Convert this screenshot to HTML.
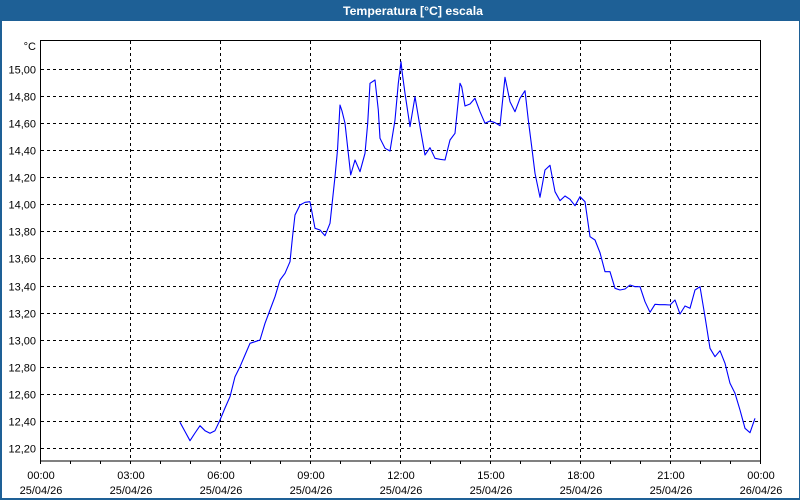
<!DOCTYPE html>
<html><head><meta charset="utf-8"><style>
html,body{margin:0;padding:0;background:#fff;}
svg{display:block;}
text{font-family:"Liberation Sans",Arial,sans-serif;}
</style></head><body>
<svg width="800" height="500" viewBox="0 0 800 500" xmlns="http://www.w3.org/2000/svg">
<rect x="0" y="0" width="800" height="500" fill="#ffffff"/>
<!-- window border / title bar -->
<rect x="0" y="0" width="800" height="21" fill="#1e6096"/>
<rect x="0" y="0" width="2" height="500" fill="#1e6096"/>
<rect x="799" y="0" width="1" height="500" fill="#1e6096"/>
<rect x="0" y="498" width="800" height="2" fill="#1e6096"/>
<text x="343" y="15" font-size="12" font-weight="bold" fill="#ffffff" textLength="140" lengthAdjust="spacingAndGlyphs">Temperatura [°C] escala</text>

<!-- horizontal grid -->
<g stroke="#000" stroke-width="1" stroke-dasharray="3,3" fill="none">
<line x1="41" y1="69.5" x2="760" y2="69.5"/>
<line x1="41" y1="96.5" x2="760" y2="96.5"/>
<line x1="41" y1="123.5" x2="760" y2="123.5"/>
<line x1="41" y1="150.5" x2="760" y2="150.5"/>
<line x1="41" y1="177.5" x2="760" y2="177.5"/>
<line x1="41" y1="204.5" x2="760" y2="204.5"/>
<line x1="41" y1="231.5" x2="760" y2="231.5"/>
<line x1="41" y1="258.5" x2="760" y2="258.5"/>
<line x1="41" y1="286.5" x2="760" y2="286.5"/>
<line x1="41" y1="313.5" x2="760" y2="313.5"/>
<line x1="41" y1="340.5" x2="760" y2="340.5"/>
<line x1="41" y1="367.5" x2="760" y2="367.5"/>
<line x1="41" y1="394.5" x2="760" y2="394.5"/>
<line x1="41" y1="421.5" x2="760" y2="421.5"/>
<line x1="41" y1="448.5" x2="760" y2="448.5"/>
</g>
<!-- vertical grid -->
<g stroke="#000" stroke-width="1" stroke-dasharray="3,3" fill="none">
<line x1="130.5" y1="41" x2="130.5" y2="464"/>
<line x1="220.5" y1="41" x2="220.5" y2="464"/>
<line x1="310.5" y1="41" x2="310.5" y2="464"/>
<line x1="400.5" y1="41" x2="400.5" y2="464"/>
<line x1="490.5" y1="41" x2="490.5" y2="464"/>
<line x1="580.5" y1="41" x2="580.5" y2="464"/>
<line x1="670.5" y1="41" x2="670.5" y2="464"/>
</g>
<!-- frame -->
<g stroke="#000" stroke-width="1" fill="none">
<rect x="40.5" y="40.5" width="720" height="420.5"/>
<line x1="40.5" y1="461" x2="40.5" y2="464"/>
<line x1="760.5" y1="461" x2="760.5" y2="464"/>
<line x1="70.5" y1="461" x2="70.5" y2="464"/>
<line x1="100.5" y1="461" x2="100.5" y2="464"/>
<line x1="160.5" y1="461" x2="160.5" y2="464"/>
<line x1="190.5" y1="461" x2="190.5" y2="464"/>
<line x1="250.5" y1="461" x2="250.5" y2="464"/>
<line x1="280.5" y1="461" x2="280.5" y2="464"/>
<line x1="340.5" y1="461" x2="340.5" y2="464"/>
<line x1="370.5" y1="461" x2="370.5" y2="464"/>
<line x1="430.5" y1="461" x2="430.5" y2="464"/>
<line x1="460.5" y1="461" x2="460.5" y2="464"/>
<line x1="520.5" y1="461" x2="520.5" y2="464"/>
<line x1="550.5" y1="461" x2="550.5" y2="464"/>
<line x1="610.5" y1="461" x2="610.5" y2="464"/>
<line x1="640.5" y1="461" x2="640.5" y2="464"/>
<line x1="700.5" y1="461" x2="700.5" y2="464"/>
<line x1="730.5" y1="461" x2="730.5" y2="464"/>
</g>

<!-- y labels -->
<g font-size="11" fill="#000" text-anchor="end">
<text x="36" y="50">°C</text>
<text x="36" y="73.5">15,00</text>
<text x="36" y="100.5">14,80</text>
<text x="36" y="127.5">14,60</text>
<text x="36" y="154.5">14,40</text>
<text x="36" y="181.5">14,20</text>
<text x="36" y="208.5">14,00</text>
<text x="36" y="235.5">13,80</text>
<text x="36" y="262.5">13,60</text>
<text x="36" y="290.5">13,40</text>
<text x="36" y="317.5">13,20</text>
<text x="36" y="344.5">13,00</text>
<text x="36" y="371.5">12,80</text>
<text x="36" y="398.5">12,60</text>
<text x="36" y="425.5">12,40</text>
<text x="36" y="452.5">12,20</text>
</g>

<!-- x labels -->
<g font-size="11" fill="#000" text-anchor="middle">
<text x="41" y="479">00:00</text><text x="41" y="494">25/04/26</text>
<text x="131" y="479">03:00</text><text x="131" y="494">25/04/26</text>
<text x="221" y="479">06:00</text><text x="221" y="494">25/04/26</text>
<text x="311" y="479">09:00</text><text x="311" y="494">25/04/26</text>
<text x="401" y="479">12:00</text><text x="401" y="494">25/04/26</text>
<text x="491" y="479">15:00</text><text x="491" y="494">25/04/26</text>
<text x="581" y="479">18:00</text><text x="581" y="494">25/04/26</text>
<text x="671" y="479">21:00</text><text x="671" y="494">25/04/26</text>
<text x="761" y="479">00:00</text><text x="761" y="494">26/04/26</text>
</g>

<!-- series -->
<polyline fill="none" stroke="#0000ff" stroke-width="1.1" stroke-linejoin="round" points="
180,422.3 185,431.5 190,440.7 195,433 200,425.7 205,430.7 210,433.3 215,430.7 220,420 225,408 230,396.7 235,376.7 240,366.7 245,355 250,343.3 255,341.7 260,340 265,323.3 270,310 275,296.7 280,280 285,273.3 290,261.7 292.5,237 295,215 300,205 305,202.3 310,201.7 315,228.3 320,230 325,235.7 330,223.3 335,176.7 337.5,150 340,105 342,111 345,123.3 348.3,153.3 350.7,175 355,160 360,171.7 365,153.3 367.7,123.3 370,83.3 375,80 378.3,110 380,138.3 385,148.3 390,151 395,120 398.3,83.3 401,61.7 402.3,73.3 405,93.3 410,126.7 415,96.7 420,126.7 425,155 430,147.7 435,158.3 440,159.3 445,160 450,140 455,133.3 460,83.3 461.7,86.7 465,106 470,104 475,98.3 480,111.7 485,123.3 490,121 495,122.7 500,125.7 505,77.3 510,101.7 515,111.7 520,98.3 525,90.7 528.3,120 531.7,146.7 535,173.3 540,197.3 545,170 550,165.3 555,191.7 560,200.7 565,196 570,199.3 575,205.7 580,196.7 585,201.7 590,236.7 595,240 600,252.7 605,271.7 610,271.7 615,288.3 620,290 625,289 630,285 635,286.7 640,286.7 645,301.7 650,312.3 655,304.3 660,304.7 665,304.7 670,305 675,300 680,314 685,306 690,308.3 695,290 700,286.7 705,316.7 710,348.3 715,356.7 720,350.7 725,363.3 730,383.3 735,393.3 740,410 745,428.3 750,432.7 755,418.3"/>
</svg>
</body></html>
